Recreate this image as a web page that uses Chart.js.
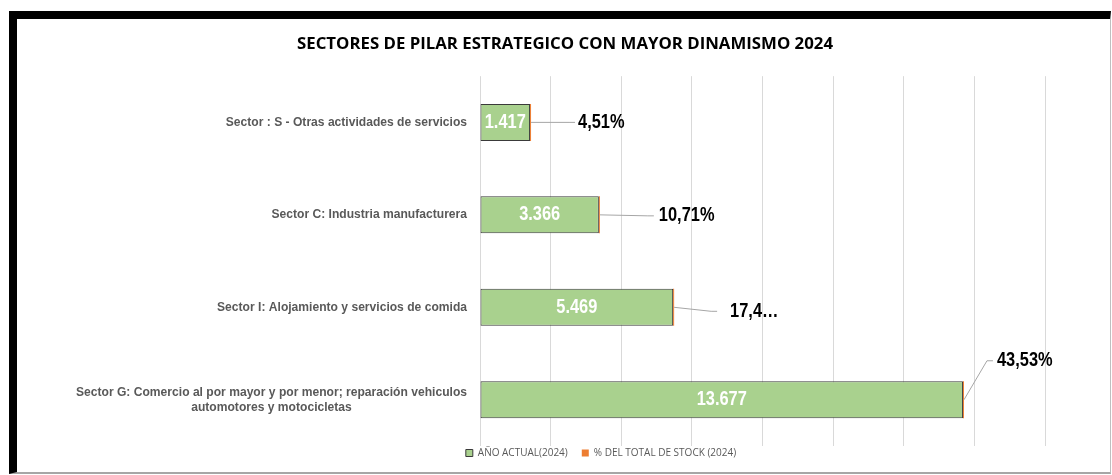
<!DOCTYPE html>
<html>
<head>
<meta charset="utf-8">
<script src="https://cdn.jsdelivr.net/npm/chart.js@4.4.1/dist/chart.umd.min.js"></script>
<style>
  html, body { margin: 0; padding: 0; background: #fff; }
  .marco {
    position: absolute; left: 9px; top: 11px; width: 1093px; height: 453px;
    border-top: 8px solid #000; border-left: 8px solid #000;
    border-right: 1px solid #bfbfbf; border-bottom: 2px solid #a6a6a6;
  }
</style>
</head>
<body>
<div class="marco"><canvas id="sectoresChart"></canvas></div>
<script>
// datos (de arriba hacia abajo)
const sectores = [
    'Sector : S - Otras actividades de servicios',
    'Sector C: Industria manufacturera',
    'Sector I: Alojamiento y servicios de comida',
    ['Sector G: Comercio al por mayor y por menor; reparación vehiculos', 'automotores y motocicletas']
];
const anioActual2024 = [1417, 3366, 5469, 13677];
const pctStock2024 = [4.51, 10.71, 17.41, 43.53];
const pctEtiquetas = ['4,51%', '10,71%', '17,4…', '43,53%'];
const ejeMax = 16000;
const ejePaso = 2000;

// posicion de las etiquetas de % respecto al final de la barra
const pctPos = [
    { dx: 48, dy: 0, gap: 3 },
    { dx: 60, dy: 1, gap: 5 },
    { dx: 57, dy: 4, gap: 13 },
    { dx: 34, dy: -39, gap: 4 }
];

const FONT = "'Liberation Sans', Arial, sans-serif";
Chart.defaults.font.family = FONT;

function miles(n) {
    return n.toString().replace(/\B(?=(\d{3})+(?!\d))/g, '.');
}

// texto "narrow" (Arial Narrow no esta disponible)
function textoEstrecho(ctx, txt, x, y, align, k) {
    ctx.save();
    ctx.translate(x, y);
    ctx.scale(k || 0.82, 1);
    ctx.textAlign = align;
    ctx.fillText(txt, 0, 0);
    ctx.restore();
}

const etiquetas = {
    id: 'etiquetas',
    afterDatasetsDraw(chart) {
        const ctx = chart.ctx;
        const meta = chart.getDatasetMeta(0);
        ctx.save();
        ctx.textBaseline = 'middle';
        ctx.font = 'bold 20px ' + FONT;
        meta.data.forEach((bar, i) => {
            // valor dentro de la barra
            ctx.fillStyle = '#ffffff';
            textoEstrecho(ctx, miles(anioActual2024[i]), (bar.x + bar.base) / 2, bar.y, 'center');

            // linea guia + porcentaje
            const p = pctPos[i];
            const lx = bar.x + p.dx, ly = bar.y + p.dy;
            ctx.strokeStyle = '#a6a6a6';
            ctx.lineWidth = 1;
            ctx.beginPath();
            ctx.moveTo(bar.x + 1, bar.y);
            ctx.lineTo(lx - p.gap - 6, ly);
            ctx.lineTo(lx - p.gap, ly);
            ctx.stroke();
            ctx.fillStyle = '#000000';
            textoEstrecho(ctx, pctEtiquetas[i], lx, ly, 'left');
        });
        ctx.restore();
    },
    afterDraw(chart) {
        // etiquetas de categoria: bloque alineado a la derecha, lineas centradas
        const ctx = chart.ctx;
        const y = chart.scales.y;
        const right = chart.chartArea.left - 13;
        const lh = 15.5;
        const k = 0.93;
        ctx.save();
        ctx.font = 'bold 13px ' + FONT;
        ctx.fillStyle = '#595959';
        ctx.textBaseline = 'middle';
        sectores.forEach((lab, i) => {
            const lines = Array.isArray(lab) ? lab : [lab];
            const w = Math.max(...lines.map(l => ctx.measureText(l).width)) * k;
            const cy = y.getPixelForValue(i);
            lines.forEach((l, j) => {
                textoEstrecho(ctx, l, right - w / 2, cy + (j - (lines.length - 1) / 2) * lh, 'center', k);
            });
        });
        ctx.restore();
    }
};

// mover titulo y leyenda como en el original
const ajusteCajas = {
    id: 'ajusteCajas',
    afterLayout(chart) {
        const t = chart.titleBlock, l = chart.legend;
        t.left += 34; t.right += 34;
        l.left += 70; l.right += 70;
        l.top -= 12; l.bottom -= 12;
    }
};

new Chart(document.getElementById('sectoresChart'), {
    type: 'bar',
    data: {
        labels: sectores,
        datasets: [
            {
                label: 'AÑO ACTUAL(2024)',
                data: anioActual2024,
                backgroundColor: '#a9d18e',
                borderColor: '#3a3a3a',
                borderWidth: 1,
                borderSkipped: false,
                categoryPercentage: 0.8,
                barPercentage: 0.5
            },
            {
                label: '% DEL TOTAL DE STOCK (2024)',
                data: pctStock2024.map(p => p / 100),
                backgroundColor: '#ed7d31',
                borderColor: '#ed7d31',
                borderWidth: 0,
                minBarLength: 1,
                categoryPercentage: 0.8,
                barPercentage: 0.5
            }
        ]
    },
    options: {
        indexAxis: 'y',
        responsive: true,
        maintainAspectRatio: false,
        animation: false,
        layout: { padding: { left: 0, right: 65, top: 0, bottom: 2 } },
        scales: {
            x: {
                stacked: true, min: 0, max: ejeMax,
                ticks: { display: false, stepSize: ejePaso },
                grid: { color: '#d9d9d9', drawTicks: false },
                border: { display: false }
            },
            y: {
                stacked: true,
                ticks: { display: false },
                grid: { display: false },
                border: { display: false },
                afterFit(s) { s.width = 463; }
            }
        },
        plugins: {
            title: {
                display: true,
                text: 'SECTORES DE PILAR ESTRATEGICO CON MAYOR DINAMISMO 2024',
                color: '#000',
                font: { family: "'Open Sans'", size: 16.8, weight: 'bold' },
                padding: { top: 15, bottom: 22 }
            },
            legend: {
                position: 'bottom',
                maxHeight: 24,
                labels: {
                    boxWidth: 7, boxHeight: 7, padding: 14,
                    color: '#595959',
                    font: { family: "'Open Sans'", size: 10 }
                }
            },
            tooltip: { enabled: false }
        }
    },
    plugins: [etiquetas, ajusteCajas]
});
</script>
</body>
</html>
